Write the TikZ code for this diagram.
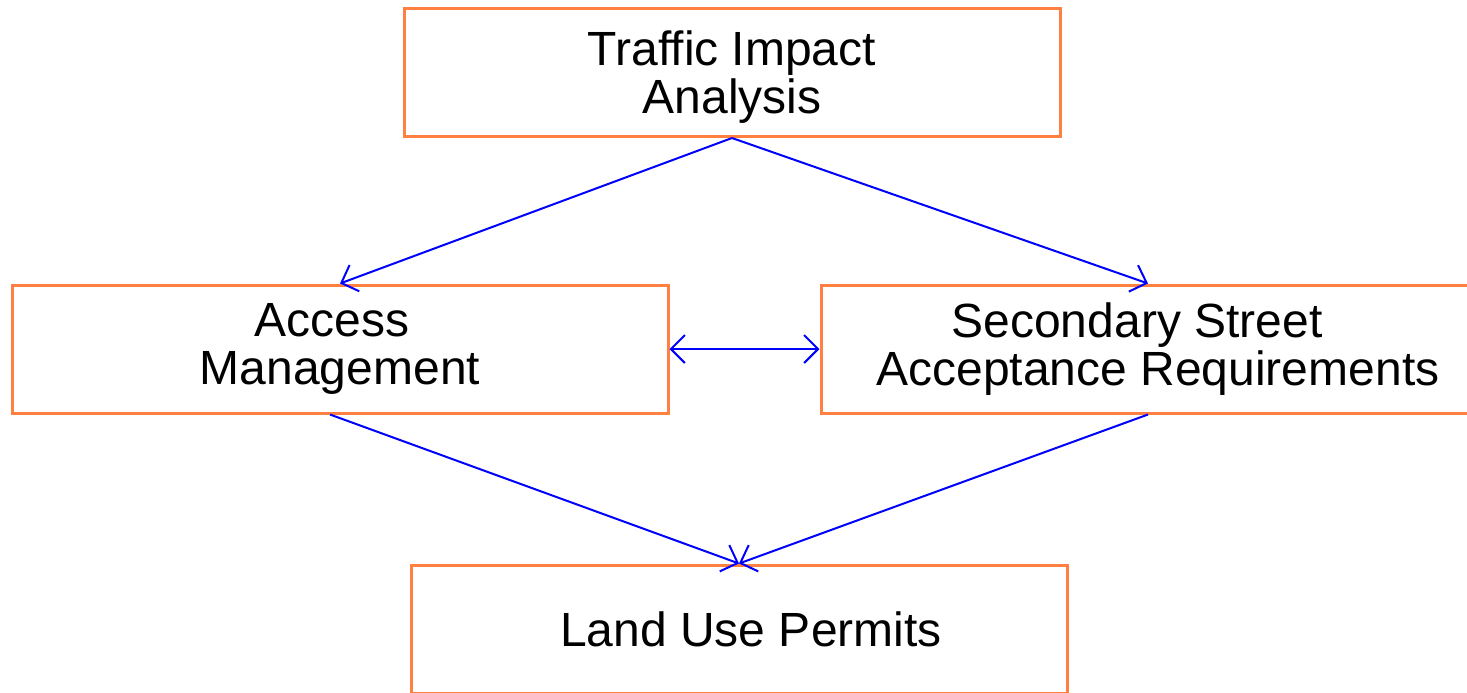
\documentclass[tikz,border=0pt]{standalone}
\usepackage{fontspec}
\setmainfont{Liberation Sans}
\usetikzlibrary{arrows.meta}
\definecolor{boxorange}{RGB}{255,128,64}
\definecolor{flowblue}{RGB}{0,0,255}
\begin{document}
\begin{tikzpicture}[x=0.5pt,y=-0.5pt,
  >={Straight Barb[length=7pt,width=14pt]},
  stage/.style={draw=boxorange, line width=1.5pt, minimum width=328pt,
    minimum height=64pt, inner sep=0pt, align=center,
    font=\fontsize{24}{24}\selectfont},
  flow/.style={draw=flowblue, line width=1pt, ->},
  both/.style={draw=flowblue, line width=1pt, <->},
  ]
\useasboundingbox (0,0) rectangle (1467,692);
\clip (0,0) rectangle (1467,692);
% stages
\node[stage] (tia) at (732,72.5) {\rule{0pt}{21.6pt}Traffic Impact\\Analysis};
\node[stage] (am) at (340,349) {Access\kern8pt\\Management};
\node[stage, minimum width=337pt] (ss) at (1158,349)
  {Secondary Street\kern21pt\\Acceptance Requirements};
\node[stage] (lup) at (739,629) {\kern12pt Land Use Permits};
% connectors
\draw[flow] (tia.south) -- (am.north);
\draw[flow] (tia.south) -- ([xshift=-5pt]ss.north);
\draw[both] (am.east) -- (ss.west);
\draw[flow] ([xshift=-5pt]am.south) -- (lup.north);
\draw[flow] ([xshift=-5pt]ss.south) -- (lup.north);
\end{tikzpicture}
\end{document}
